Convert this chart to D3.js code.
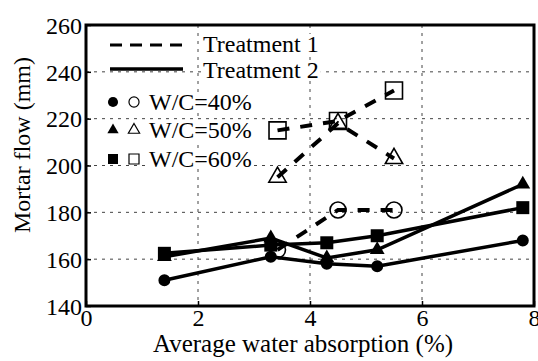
<!DOCTYPE html>
<html>
<head>
<meta charset="utf-8">
<script src="https://d3js.org/d3.v7.min.js"></script>
<style>
  body { margin: 0; background: #fff; }
  svg { display: block; }
  text { font-family: "Liberation Serif", Tinos, "Times New Roman", Times, "DejaVu Serif", serif; fill: #000; }
  .grid line { stroke: #444; stroke-width: 1px; stroke-dasharray: 3,5; }
</style>
</head>
<body>
<div id="chart"></div>
<script>
// Treatment 2 (solid lines, filled markers)
var t2X   = [1.4, 3.3, 4.3, 5.2, 7.8];
var t2W40 = [151, 161, 158, 157, 168];
var t2W50 = [161, 169, 160.5, 164, 192];
var t2W60 = [162.5, 166, 167, 170, 182];

// Treatment 1 (dashed lines, open markers)
var t1X   = [3.42, 4.5, 5.5];
var t1W40 = [164, 181, 181];
var t1W50 = [195, 218, 203];
var t1W60 = [215, 219, 232];

var xTicks = [0, 2, 4, 6, 8];
var yTicks = [140, 160, 180, 200, 220, 240, 260];
var wcLabels = ["W/C=40%", "W/C=50%", "W/C=60%"];
var treatLabels = ["Treatment 1", "Treatment 2"];

var W = 538, H = 361;
var L = 86, R = 534, T = 25, B = 306;

var svg = d3.select("#chart").append("svg").attr("width", W).attr("height", H);

var x = d3.scaleLinear().domain([0, 8]).range([L, R]);
var y = d3.scaleLinear().domain([140, 260]).range([B, T]);

// grid
var grid = svg.append("g").attr("class", "grid");
grid.selectAll(".gx").data([2, 4, 6]).enter().append("line")
    .attr("x1", function(d) { return x(d); }).attr("x2", function(d) { return x(d); })
    .attr("y1", T).attr("y2", B);
grid.selectAll(".gy").data([160, 180, 200, 220, 240]).enter().append("line")
    .attr("y1", function(d) { return y(d); }).attr("y2", function(d) { return y(d); })
    .attr("x1", L).attr("x2", R);

// axes
var xAxis = svg.append("g").attr("transform", "translate(0," + B + ")")
    .call(d3.axisBottom(x).tickValues(xTicks).tickSize(-5).tickPadding(3));
var yAxis = svg.append("g").attr("transform", "translate(" + L + ",0)")
    .call(d3.axisLeft(y).tickValues(yTicks).tickSize(-5).tickPadding(4));
svg.selectAll(".domain").remove();
[xAxis, yAxis].forEach(function(a) {
  a.attr("font-family", null).attr("font-size", null);
  a.selectAll("text").style("font-size", "24px");
});
svg.selectAll(".tick line").attr("stroke", "#000").attr("stroke-width", 1.5);
xAxis.selectAll("text").attr("dy", "0.72em");
yAxis.selectAll("text").attr("dy", "0.34em");

// axis titles
svg.append("text").attr("x", 303).attr("y", 352).attr("text-anchor", "middle")
    .style("font-size", "25px").text("Average water absorption (%)");
svg.append("text").attr("transform", "translate(30,145) rotate(-90)")
    .attr("text-anchor", "middle").style("font-size", "24px").text("Mortar flow (mm)");

function pts(xs, ys) { return xs.map(function(d, i) { return [d, ys[i]]; }); }
var line = d3.line().x(function(d) { return x(d[0]); }).y(function(d) { return y(d[1]); });

var t1 = [t1W40, t1W50, t1W60], t2 = [t2W40, t2W50, t2W60];
var shapes = [d3.symbolCircle, d3.symbolTriangle, d3.symbolSquare];

// treatment 1 dashed lines
t1.forEach(function(s) {
  svg.append("path").attr("d", line(pts(t1X, s)))
     .attr("fill", "none").attr("stroke", "#000").attr("stroke-width", 4)
     .attr("stroke-dasharray", "12,11");
});
// treatment 2 solid lines
t2.forEach(function(s) {
  svg.append("path").attr("d", line(pts(t2X, s)))
     .attr("fill", "none").attr("stroke", "#000").attr("stroke-width", 3.5);
});

var openSize = [200, 130, 289], fillSize = [113, 95, 169];
t1.forEach(function(s, k) {
  svg.selectAll(null).data(pts(t1X, s)).enter().append("path")
     .attr("d", d3.symbol().type(shapes[k]).size(openSize[k]))
     .attr("transform", function(d) { return "translate(" + x(d[0]) + "," + y(d[1]) + ")"; })
     .attr("fill", "none").attr("stroke", "#000").attr("stroke-width", 1.6);
});
t2.forEach(function(s, k) {
  svg.selectAll(null).data(pts(t2X, s)).enter().append("path")
     .attr("d", d3.symbol().type(shapes[k]).size(fillSize[k]))
     .attr("transform", function(d) { return "translate(" + x(d[0]) + "," + y(d[1]) + ")"; })
     .attr("fill", "#000");
});

// legend
var leg = svg.append("g");
function legText(tx, ty, s) {
  var g = leg.append("g");
  var t = g.append("text").attr("x", tx).attr("y", ty).style("font-size", "24px").text(s);
  var bb = t.node().getBBox();
  g.insert("rect", "text").attr("x", bb.x - 2).attr("y", bb.y + 3)
   .attr("width", bb.width + 4).attr("height", bb.height - 6).attr("fill", "#fff");
}
leg.append("line").attr("x1", 110).attr("x2", 183).attr("y1", 45).attr("y2", 45)
   .attr("stroke", "#000").attr("stroke-width", 3).attr("stroke-dasharray", "12,8");
legText(203, 52, treatLabels[0]);
leg.append("line").attr("x1", 110).attr("x2", 183).attr("y1", 69).attr("y2", 69)
   .attr("stroke", "#000").attr("stroke-width", 3.5);
legText(203, 78, treatLabels[1]);

var rows = [102, 130, 159];
var legFill = [80, 55, 100], legOpen = [80, 55, 100];
wcLabels.forEach(function(lab, k) {
  leg.append("path").attr("d", d3.symbol().type(shapes[k]).size(legFill[k]))
     .attr("transform", "translate(113," + rows[k] + ")").attr("fill", "#000");
  leg.append("path").attr("d", d3.symbol().type(shapes[k]).size(legOpen[k]))
     .attr("transform", "translate(134," + rows[k] + ")")
     .attr("fill", "none").attr("stroke", "#000").attr("stroke-width", 1.2);
  legText(149, rows[k] + 8, lab);
});

// frame
svg.append("rect").attr("x", L).attr("y", T).attr("width", R - L).attr("height", B - T)
   .attr("fill", "none").attr("stroke", "#000").attr("stroke-width", 3);
</script>
</body>
</html>
